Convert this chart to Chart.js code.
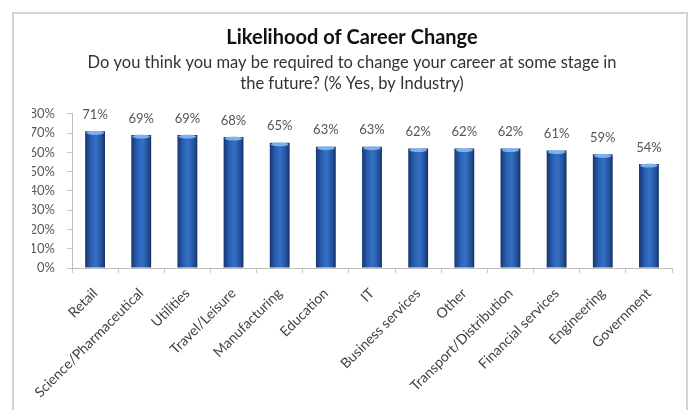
<!DOCTYPE html>
<html>
<head>
<meta charset="utf-8">
<script src="https://cdn.jsdelivr.net/npm/chart.js@4/dist/chart.umd.min.js"></script>
<style>
  html, body { margin: 0; padding: 0; background: #fff; }
  #wrap { position: relative; width: 694px; height: 410px; overflow: hidden; }
  #frame { position: absolute; left: 12px; top: 12px; width: 676px; height: 420px;
           border: 2px solid #d4d4d4; box-sizing: border-box; }
  canvas { position: absolute; left: 0; top: 0; }
</style>
</head>
<body>
<div id="wrap">
  <div id="frame"></div>
  <canvas id="careerChart" width="694" height="410"></canvas>
</div>
<script>
const industries = ["Retail", "Science/Pharmaceutical", "Utilities", "Travel/Leisure", "Manufacturing",
  "Education", "IT", "Business services", "Other", "Transport/Distribution",
  "Financial services", "Engineering", "Government"];
const yesShare = [71, 69, 69, 68, 65, 63, 63, 62, 62, 62, 61, 59, 54];
const yTicks = [0, 10, 20, 30, 40, 50, 60, 70, 80];

const FONT = "Lato, 'Open Sans', sans-serif";
const BAR_PCT = 0.43;

// cylinder-like shading: dark edges, lighter middle
function barFill(ctx) {
  const chart = ctx.chart;
  const x = chart.scales.x;
  if (!x || !chart.chartArea) return "#2d63b3";
  const cx = x.getPixelForValue(ctx.dataIndex);
  const step = x.getPixelForValue(1) - x.getPixelForValue(0);
  const w = step * BAR_PCT / 2;
  const g = chart.ctx.createLinearGradient(cx - w, 0, cx + w, 0);
  g.addColorStop(0, "#173670");
  g.addColorStop(0.3, "#2a60b4");
  g.addColorStop(0.55, "#3570c4");
  g.addColorStop(0.85, "#214f98");
  g.addColorStop(1, "#142f60");
  return g;
}

// light cap on top of each bar and the % value above it
const valueLabels = {
  id: "valueLabels",
  afterDatasetsDraw(chart) {
    const c = chart.ctx;
    const meta = chart.getDatasetMeta(0);
    c.save();
    meta.data.forEach((bar, i) => {
      const w = bar.width;
      c.fillStyle = "rgba(140,190,245,0.85)";
      c.beginPath();
      c.ellipse(bar.x, bar.y + 1.5, w / 2 - 1, 2, 0, 0, Math.PI * 2);
      c.fill();
      c.fillStyle = "#555";
      c.font = "13px " + FONT;
      c.textAlign = "center";
      c.textBaseline = "bottom";
      c.fillText(yesShare[i] + "%", bar.x, bar.y - 10);
    });
    c.restore();
  }
};

new Chart(document.getElementById("careerChart"), {
  type: "bar",
  data: {
    labels: industries,
    datasets: [{
      data: yesShare,
      backgroundColor: barFill,
      borderWidth: 0,
      barPercentage: BAR_PCT,
      categoryPercentage: 1
    }]
  },
  options: {
    responsive: false,
    animation: false,
    layout: { padding: { left: 32, right: 22, top: 0, bottom: 0 } },
    plugins: {
      legend: { display: false },
      tooltip: { enabled: false },
      title: {
        display: true,
        text: "Likelihood of Career Change",
        color: "#111",
        font: { family: FONT, size: 20, weight: "bold", lineHeight: 1.2 },
        padding: { top: 26, bottom: 2 }
      },
      subtitle: {
        display: true,
        text: ["Do you think you may be required to change your career at some stage in",
               "the future? (% Yes, by Industry)"],
        color: "#333",
        font: { family: FONT, size: 16.5, lineHeight: 1.27 },
        padding: { top: 0, bottom: 20 }
      }
    },
    scales: {
      x: {
        grid: { display: true, drawOnChartArea: false, offset: true, tickLength: 5, color: "#c8c8c8" },
        border: { color: "#bdbdbd" },
        ticks: {
          color: "#404040",
          font: { family: FONT, size: 14 },
          maxRotation: 45, minRotation: 45, padding: 12, autoSkip: false
        },
        afterFit(s) { s.height = 142; }
      },
      y: {
        min: 0, max: 80,
        afterBuildTicks(s) { s.ticks = yTicks.map(v => ({ value: v })); },
        grid: { display: true, drawOnChartArea: false, tickLength: 5, color: "#c8c8c8" },
        border: { color: "#bdbdbd" },
        ticks: {
          color: "#595959",
          font: { family: FONT, size: 13 },
          padding: 12,
          callback: v => v + "%"
        },
        afterFit(s) { s.width = 40; }
      }
    }
  },
  plugins: [valueLabels]
});
</script>
</body>
</html>
